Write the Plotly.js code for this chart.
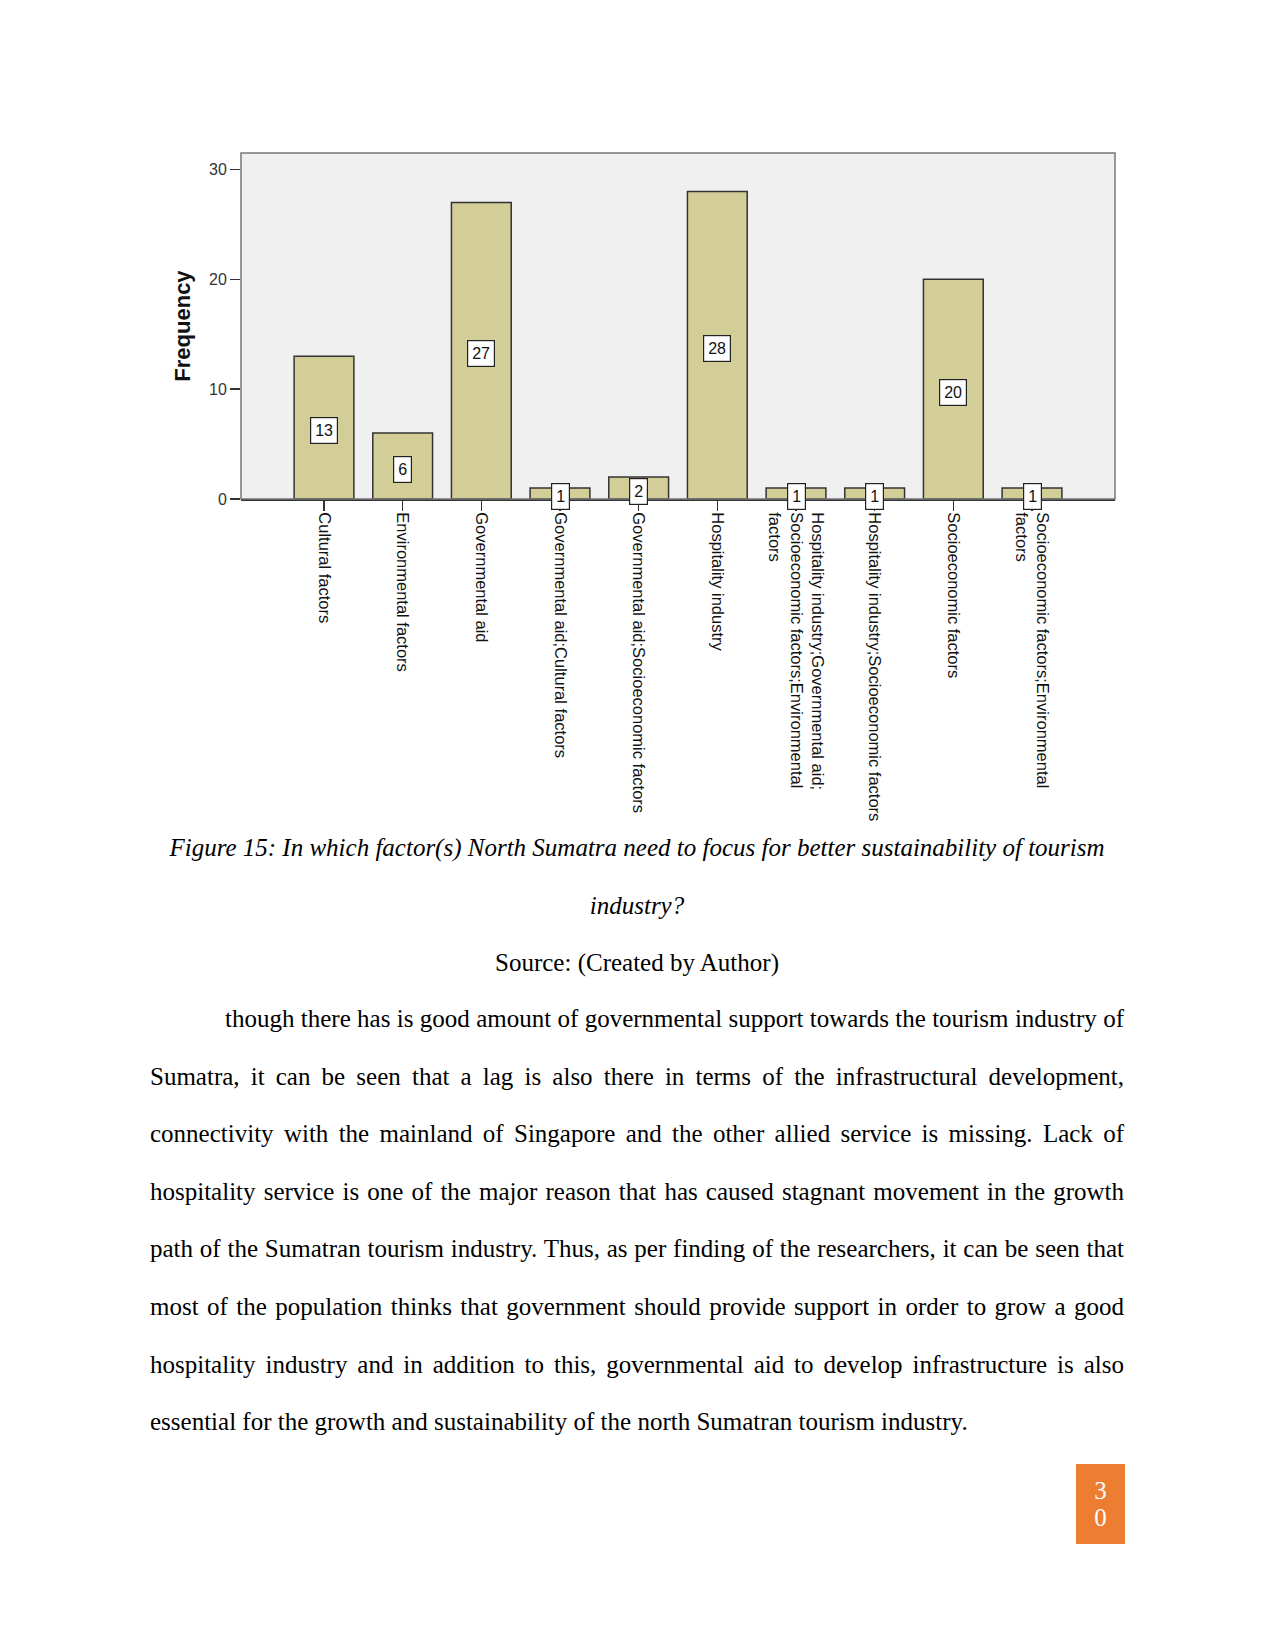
<!DOCTYPE html>
<html>
<head>
<meta charset="utf-8">
<script src="https://cdn.plot.ly/plotly-3.0.1.min.js"></script>
<style>
  html, body { margin: 0; padding: 0; background: #ffffff; }
  #page { position: relative; width: 1275px; height: 1650px; overflow: hidden; background: #fff; }
  #chart { position: absolute; left: 0; top: 0; width: 1275px; height: 1650px; }
  .txt { position: absolute; font-family: "Liberation Serif", "Times New Roman", serif; font-size: 25px; color: #000; line-height: 57.6px; }
  #caption { left: 150px; top: 819px; width: 974px; text-align: center; }
  #caption .fig { font-style: italic; }
  #para { left: 150px; top: 990px; width: 974px; text-align: justify; text-indent: 75px; }
  #pagenum { position: absolute; left: 1076px; top: 1464px; width: 49px; height: 80px; background: #ED7D31; color: #fff;
    font-family: "Liberation Serif", "Times New Roman", serif; font-size: 25px; line-height: 27px; text-align: center;
    display: flex; flex-direction: column; justify-content: center; }
</style>
</head>
<body>
<div id="page">
  <div id="chart"></div>
  <div id="caption" class="txt"><span class="fig">Figure 15: In which factor(s) North Sumatra need to focus for better sustainability of tourism<br>industry?</span><br>Source: (Created by Author)</div>
  <div id="para" class="txt">though there has is good amount of governmental support towards the tourism industry of Sumatra, it can be seen that a lag is also there in terms of the infrastructural development, connectivity with the mainland of Singapore and the other allied service is missing. Lack of hospitality service is one of the major reason that has caused stagnant movement in the growth path of the Sumatran tourism industry. Thus, as per finding of the researchers, it can be seen that most of the population thinks that government should provide support in order to grow a good hospitality industry and in addition to this, governmental aid to develop infrastructure is also essential for the growth and sustainability of the north Sumatran tourism industry.</div>
  <div id="pagenum"><div>3</div><div>0</div></div>
</div>
<script>
// ---- data ----
const categories = [
  "Cultural factors",
  "Environmental factors",
  "Governmental aid",
  "Governmental aid;Cultural factors",
  "Governmental aid;Socioeconomic factors",
  "Hospitality industry",
  "Hospitality industry;Governmental aid;<br>Socioeconomic factors;Environmental<br>factors",
  "Hospitality industry;Socioeconomic factors",
  "Socioeconomic factors",
  "Socioeconomic factors;Environmental<br>factors"
];
const frequencies = [13, 6, 27, 1, 2, 28, 1, 1, 20, 1];
const yTickValues = [0, 10, 20, 30];
const yAxisTitle = "Frequency";

// ---- chart ----
const trace = {
  type: "bar",
  x: categories,
  y: frequencies,
  width: 0.76,
  marker: { color: "#d3ce97", line: { color: "#333333", width: 1.5 } },
  hoverinfo: "x+y"
};

const labelAnnotations = categories.map((c, i) => ({
  x: c, y: frequencies[i] / 2, xref: "x", yref: "y", yshift: -3,
  text: String(frequencies[i]), showarrow: false,
  bgcolor: "#ffffff", bordercolor: "#222222", borderwidth: 1.2, borderpad: 4,
  font: { family: "Liberation Sans, Arial, sans-serif", size: 16, color: "#111" }
}));

const layout = {
  width: 1275, height: 1650,
  margin: { l: 241, r: 160, t: 153, b: 1151, pad: 0 },
  paper_bgcolor: "rgba(0,0,0,0)",
  plot_bgcolor: "#f0f0f0",
  showlegend: false,
  xaxis: {
    type: "category",
    range: [-1.055, 10.055],
    showgrid: false, zeroline: false,
    showline: true, linecolor: "#333333", linewidth: 2,
    ticks: "outside", ticklen: 10, tickwidth: 1.5, tickcolor: "#333333",
    tickangle: 90,
    ticklabelstandoff: -2,
    tickfont: { family: "Liberation Sans, Arial, sans-serif", size: 16.5, color: "#111" },
    automargin: false
  },
  yaxis: {
    range: [0, 31.5],
    tickvals: yTickValues,
    showgrid: false, zeroline: false,
    showline: false,
    ticks: "outside", ticklen: 10, tickwidth: 1.5, tickcolor: "#333333",
    tickfont: { family: "Liberation Sans, Arial, sans-serif", size: 16, color: "#333" },
    title: { text: yAxisTitle, standoff: 12, font: { family: "Liberation Sans, Arial, sans-serif", size: 22, color: "#111", weight: "bold" } },
    automargin: false
  },
  shapes: [{
    type: "rect", xref: "paper", yref: "paper", x0: 0, x1: 1, y0: 0, y1: 1,
    line: { color: "#777777", width: 1.5 }, layer: "above"
  }],
  annotations: labelAnnotations
};

Plotly.newPlot("chart", [trace], layout, { displayModeBar: false, staticPlot: true });
</script>
</body>
</html>
